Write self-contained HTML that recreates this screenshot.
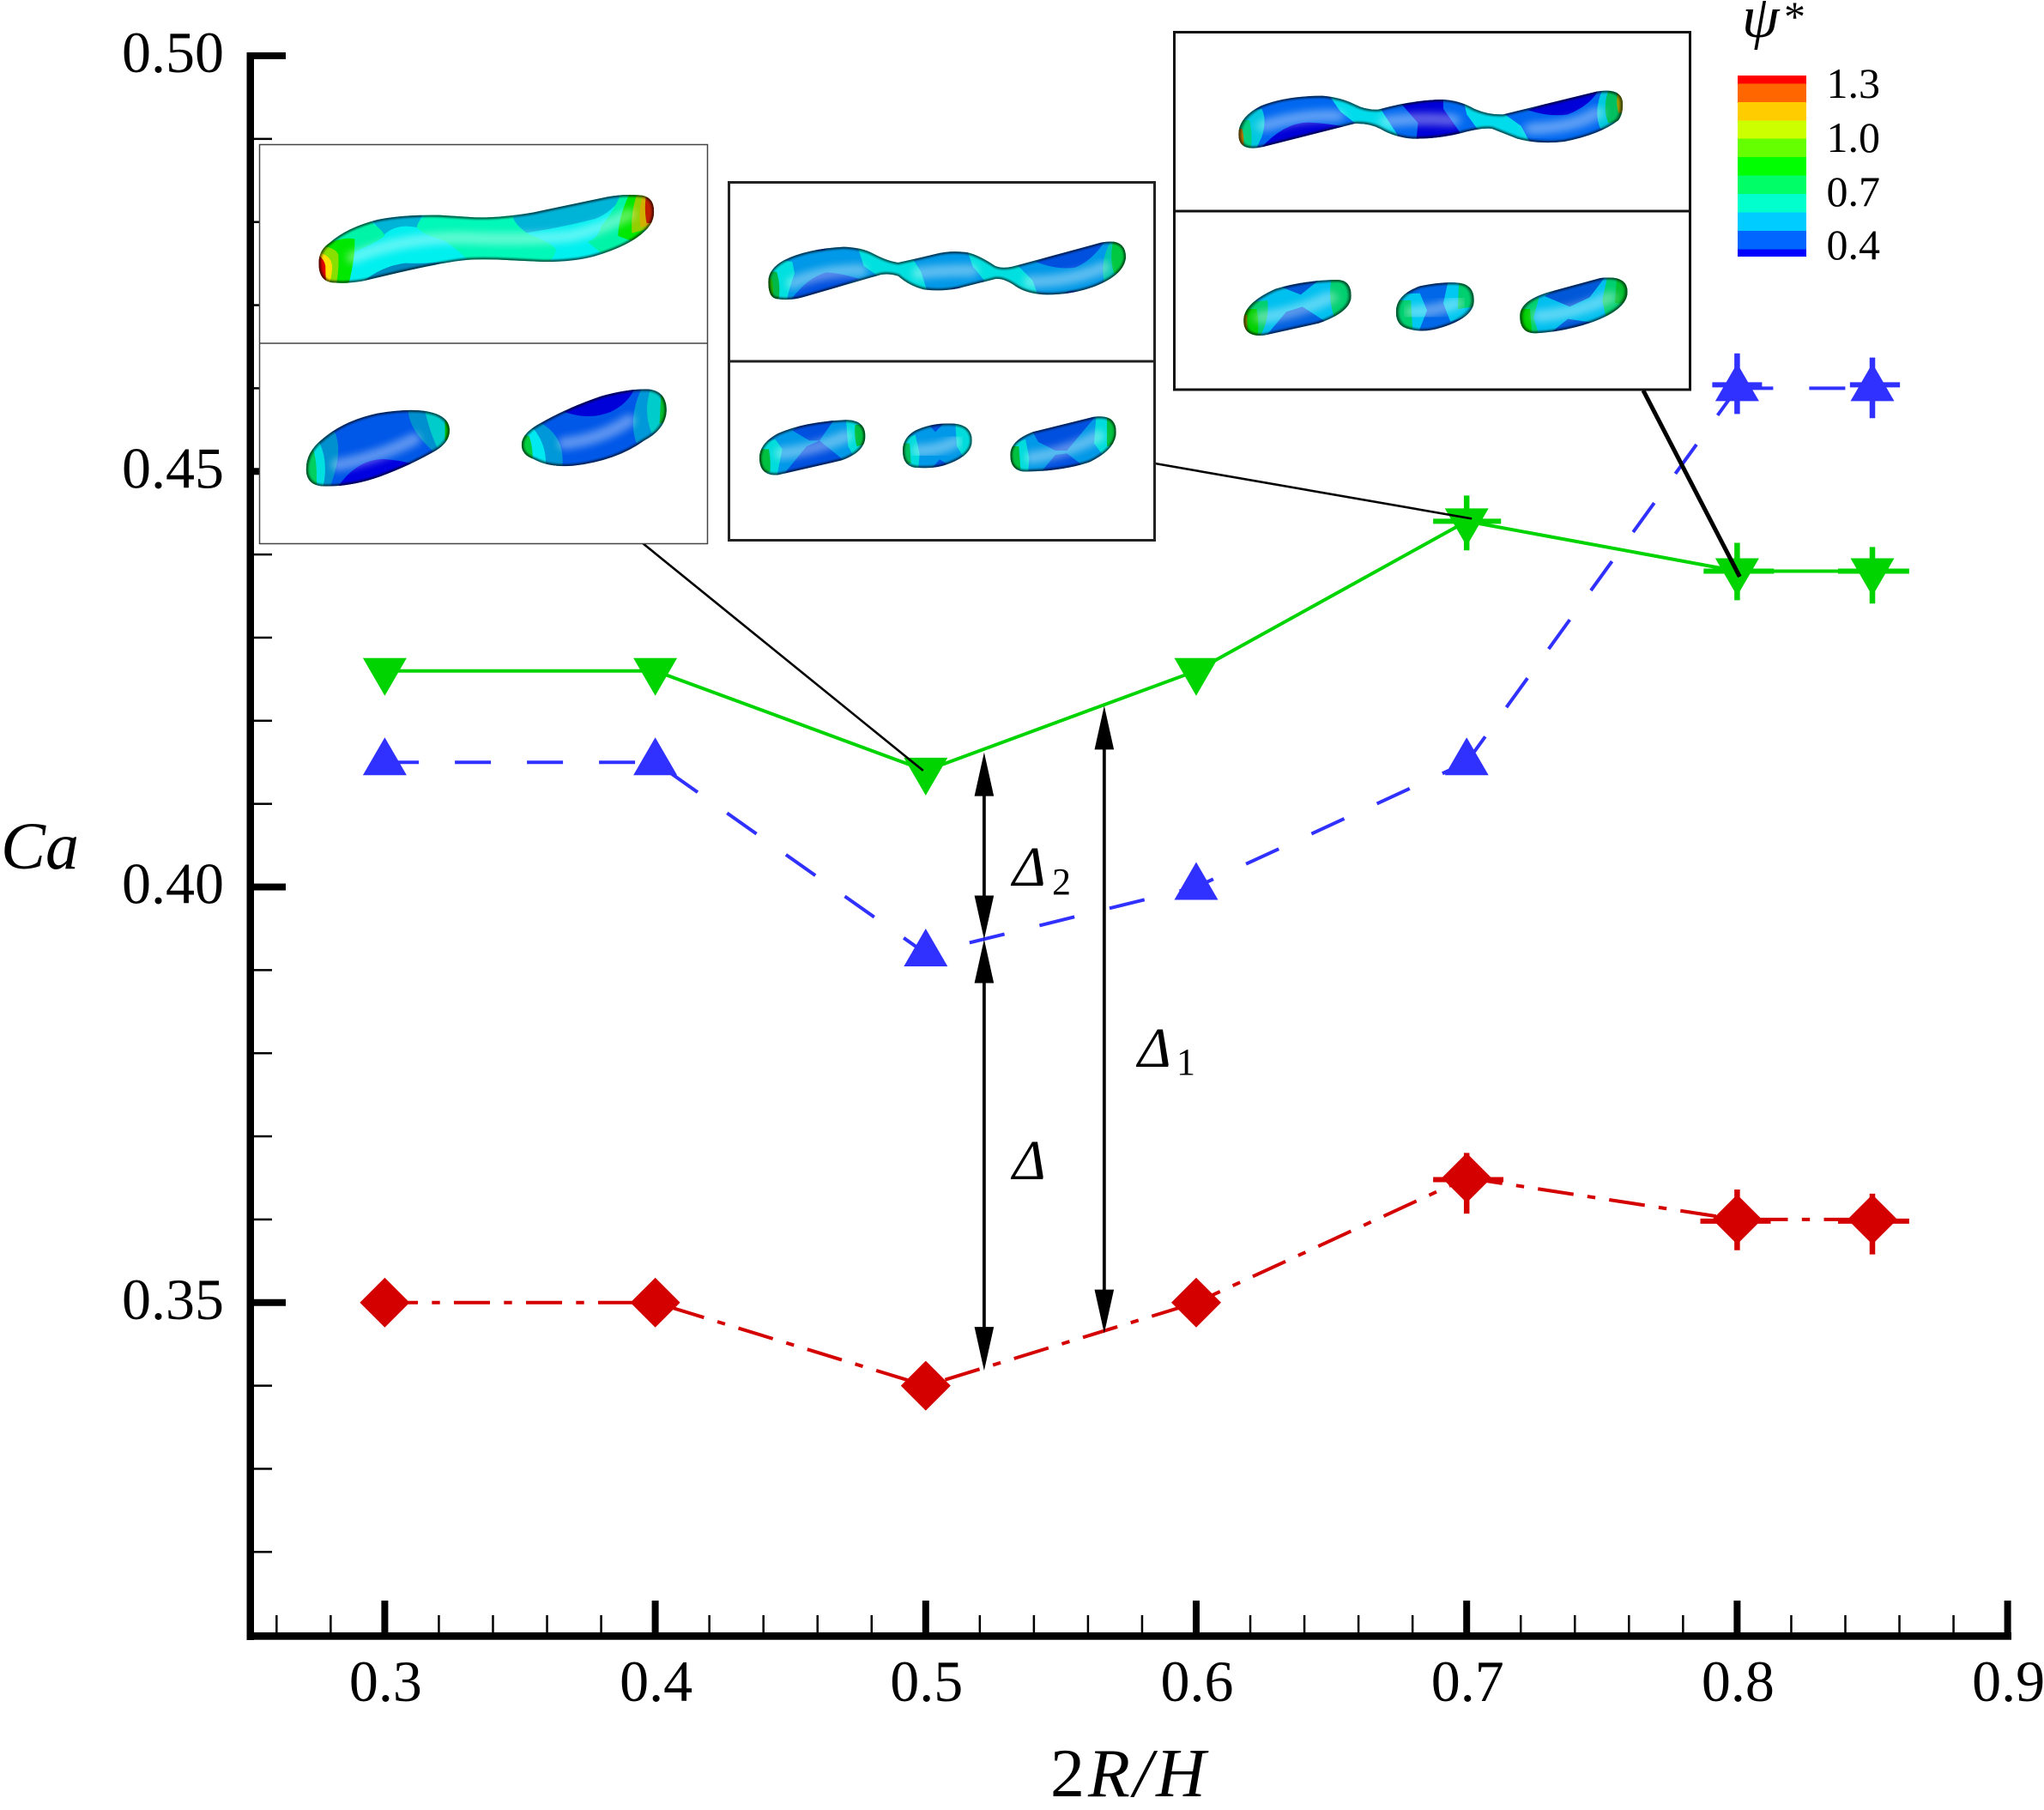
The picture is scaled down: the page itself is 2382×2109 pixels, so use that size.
<!DOCTYPE html>
<html lang="en">
<head>
<meta charset="utf-8">
<title>Ca versus 2R/H</title>
<style>
html,body{margin:0;padding:0;background:#fff;}
body{width:2382px;height:2109px;overflow:hidden;}
svg{display:block;}
text{font-family:"Liberation Serif",serif;fill:#000;}
.shade{fill:none;stroke:#000;stroke-width:13;opacity:.65;filter:url(#edgeBlur);}
.hl{fill:none;stroke:#fff;stroke-width:44;opacity:.36;stroke-linecap:round;filter:url(#hlBlur);}
</style>
</head>
<body>
<svg id="chart" xmlns="http://www.w3.org/2000/svg" width="2382" height="2109" viewBox="0 0 2382 2109">
<defs>
<filter id="edgeBlur" x="-20%" y="-40%" width="140%" height="180%"><feGaussianBlur stdDeviation="3.5"/></filter>
<filter id="hlBlur" x="-20%" y="-60%" width="140%" height="220%"><feGaussianBlur stdDeviation="13"/></filter>
<path id="oA" d="M228 470Q228 425 262 400Q320 345 420 318Q500 300 620 302Q680 306 740 310Q820 312 930 292L1170 238Q1220 228 1270 232Q1322 232 1322 290Q1322 330 1290 360Q1240 410 1130 445Q1060 466 960 465L860 460Q780 455 720 458Q640 465 480 505L370 533Q320 542 280 538Q228 538 228 470Z"/>
<path id="oB" d="M187 1190Q187 1130 240 1085Q310 1020 420 995Q500 980 560 985Q655 995 655 1055Q655 1095 610 1125Q530 1175 430 1215Q340 1250 250 1250Q187 1250 187 1190Z"/>
<path id="oC" d="M890 1105Q890 1065 950 1030Q1040 975 1150 935Q1230 910 1300 910Q1363 915 1363 985Q1360 1050 1290 1090Q1200 1160 1060 1178Q980 1185 930 1155Q890 1140 890 1105Z"/>
<path id="oD" d="M166 385Q166 340 220 310Q300 270 430 263Q490 265 530 285Q580 312 620 318Q680 305 750 288Q800 275 860 282Q900 290 960 330Q985 340 1020 332L1330 248Q1416 230 1416 300Q1410 360 1310 400Q1230 430 1140 430Q1070 428 1030 400Q990 372 960 375L830 408Q770 420 710 412Q660 400 620 365Q590 355 560 360L290 438Q240 452 200 445Q166 445 166 385Z"/>
<path id="oE" d="M135 1000Q135 950 200 915Q290 875 430 868Q505 865 505 925Q505 980 420 1010L200 1060Q135 1065 135 1000Z"/>
<path id="oF" d="M636 975Q636 930 680 905Q730 880 800 880Q878 880 878 940Q878 990 800 1020Q750 1040 690 1035Q636 1035 636 975Z"/>
<path id="oG" d="M1012 990Q1012 940 1090 910L1300 858Q1382 845 1382 910Q1382 970 1290 1015Q1200 1045 1080 1048Q1012 1055 1012 990Z"/>
<path id="oH" d="M198 470Q198 410 260 370Q330 335 430 335Q480 340 520 365Q550 385 585 383Q680 350 760 348Q810 350 850 380Q890 402 930 400L1190 320Q1262 305 1262 365Q1262 400 1250 420Q1200 470 1100 495Q1030 505 970 485Q930 465 900 450Q880 445 830 460Q760 485 680 485Q630 480 590 450Q560 430 520 432L270 512Q198 535 198 470Z"/>
<path id="oI" d="M212 1120Q212 1060 300 1010Q380 980 470 978Q510 978 510 1035Q510 1090 420 1130L270 1172Q212 1180 212 1120Z"/>
<path id="oJ" d="M634 1090Q634 1030 700 1000Q760 985 800 988Q850 990 850 1050Q850 1110 760 1145Q710 1165 670 1150Q634 1140 634 1090Z"/>
<path id="oK" d="M977 1105Q977 1050 1060 1020L1200 972Q1275 960 1275 1020Q1275 1080 1180 1125Q1100 1160 1020 1165Q977 1165 977 1105Z"/>
<clipPath id="cA"><use href="#oA"/></clipPath><clipPath id="cB"><use href="#oB"/></clipPath><clipPath id="cC"><use href="#oC"/></clipPath>
<clipPath id="cD"><use href="#oD"/></clipPath><clipPath id="cE"><use href="#oE"/></clipPath><clipPath id="cF"><use href="#oF"/></clipPath><clipPath id="cG"><use href="#oG"/></clipPath>
<clipPath id="cH"><use href="#oH"/></clipPath><clipPath id="cI"><use href="#oI"/></clipPath><clipPath id="cJ"><use href="#oJ"/></clipPath><clipPath id="cK"><use href="#oK"/></clipPath>
</defs>

<rect x="0" y="0" width="2382" height="2109" fill="#fff"/>

<g id="axes"></g>
<g id="series"></g>
<g id="leaders"></g>

<!-- inset 1 -->
<g>
<rect x="302.5" y="168.5" width="522" height="465" fill="#fff" stroke="#444" stroke-width="1.5"/>
<line x1="302" y1="400" x2="825" y2="400" stroke="#444" stroke-width="1.5"/>
<g transform="translate(290,150) scale(.35714,.33333)">
<g clip-path="url(#cA)">
<rect x="200" y="200" width="1150" height="360" fill="#00f0f0"/>
<path fill="#00b4d8" d="M395 310L570 290L548 345Q480 330 440 372Z"/>
<path fill="#00b4d8" d="M850 312L1230 220Q1190 290 1130 315Q1020 345 905 364Z"/>
<path fill="#0088c0" d="M360 545Q430 480 510 470Q580 472 640 465L480 520Z"/>
<path fill="#00f8b8" d="M548 345Q555 300 620 295L860 305Q870 340 915 370Q980 395 1002 420Q1000 450 970 475L720 465Q690 430 640 392Q590 375 570 365Z"/>
<path fill="#00f4a8" d="M1105 395Q1140 385 1150 340Q1190 290 1215 225L1340 220L1340 420L1150 435Z"/>
<path fill="#00f4a8" d="M230 400Q300 350 395 325Q440 355 443 375Q420 395 345 430L325 545L220 545Z"/>
<path fill="#00e800" d="M220 420Q300 375 345 385Q348 450 325 545L220 545Z"/>
<path fill="#00e800" d="M1245 220Q1205 310 1205 375L1270 400L1340 220Z"/>
<path fill="#88e000" d="M220 410Q280 410 292 440Q295 490 285 545L220 545Z"/>
<path fill="#90d000" d="M1268 225Q1245 290 1250 365L1340 340L1340 225Z"/>
<path fill="#ffe000" d="M220 430Q268 440 272 480Q272 510 262 545L220 545Z"/>
<path fill="#d0b000" d="M1285 235Q1270 290 1278 345L1340 330L1340 235Z"/>
<path fill="#e00000" d="M220 440Q245 450 250 480Q250 510 252 535L220 535Z"/>
<path fill="#c02000" d="M1295 240Q1290 290 1298 330L1340 330L1340 240Z"/>
<path class="hl" d="M340 450Q520 375 720 382Q900 390 1050 375Q1150 350 1240 300"/>
<use class="shade" href="#oA"/>
</g>
<g clip-path="url(#cB)">
<rect x="170" y="970" width="500" height="300" fill="#0058e8"/>
<path fill="#0000e0" d="M285 1260Q350 1155 440 1155Q490 1158 535 1172L420 1240Z"/>
<path fill="#0090d0" d="M520 970Q515 1050 610 1135L680 1100L680 970Z"/>
<path fill="#00cccc" d="M572 975Q590 1060 615 1115L680 1080L680 975Z"/>
<path fill="#00c000" d="M640 1010L680 1010L680 1090L640 1090Z"/>
<path fill="#0090d0" d="M170 1260L262 1260Q310 1130 280 1060L170 1060Z"/>
<path fill="#00e0e0" d="M170 1260L240 1260Q262 1170 230 1095L170 1095Z"/>
<path fill="#00d060" d="M170 1260L220 1260Q225 1170 210 1120L170 1120Z"/>
<path class="hl" d="M290 1175Q420 1150 540 1085"/>
<use class="shade" href="#oB"/>
</g>
<g clip-path="url(#cC)">
<rect x="870" y="890" width="510" height="310" fill="#0058e8"/>
<path fill="#0000d8" d="M1030 990Q1110 1020 1180 990Q1240 960 1262 900L1130 925Z"/>
<path fill="#0098d8" d="M870 1030L955 1030Q1035 1080 1022 1190L870 1190Z"/>
<path fill="#00e8f0" d="M870 1050L930 1050Q975 1110 968 1190L870 1190Z"/>
<path fill="#00d040" d="M870 1060L915 1075Q930 1120 925 1190L870 1190Z"/>
<path fill="#0098d8" d="M1285 900L1380 900L1380 1050L1265 1100Q1235 1010 1285 900Z"/>
<path fill="#00cccc" d="M1312 905L1380 905L1380 1030L1315 1065Q1285 990 1312 905Z"/>
<path fill="#00c030" d="M1345 930L1380 930L1380 1020L1340 1030Z"/>
<path class="hl" d="M1030 1100Q1150 1085 1240 1020"/>
<use class="shade" href="#oC"/>
</g>
</g>
</g>

<!-- inset 2 -->
<g>
<rect x="849.5" y="212.5" width="496" height="417" fill="#fff" stroke="#222" stroke-width="3"/>
<line x1="849" y1="421" x2="1346" y2="421" stroke="#222" stroke-width="3"/>
<g transform="translate(840,200) scale(.33333)">
<g clip-path="url(#cD)">
<rect x="150" y="230" width="1290" height="230" fill="#0098e8"/>
<path fill="#0050e0" d="M240 455Q300 370 370 352Q420 355 485 375L300 445Z"/>
<path fill="#0050e0" d="M1100 315Q1180 345 1240 335Q1300 310 1345 240L1200 275Z"/>
<path fill="#0050e0" d="M310 262Q350 295 385 258Z"/>
<path fill="#0050e0" d="M795 415Q825 395 860 412Z"/>
<path fill="#0050e0" d="M1185 440Q1220 400 1265 425Z"/>
<path fill="#00e0e0" d="M478 262L530 275L620 310L665 295L700 350L722 420L660 410L610 360L550 365L500 330Z"/>
<path fill="#00e0e0" d="M862 275L900 285L985 332L1035 325L1090 380L1110 435L1040 420L985 380L925 385L880 330Z"/>
<path fill="#00e0e0" d="M150 370L220 310L250 315L258 355L240 410L228 460L150 460Z"/>
<path fill="#00c8b0" d="M1365 240Q1325 310 1340 385L1430 350L1430 240Z"/>
<path fill="#00b848" d="M150 350L195 350Q212 400 200 460L150 460Z"/>
<path fill="#20b000" d="M150 370L178 375Q186 410 182 440L150 440Z"/>
<path fill="#00c840" d="M1372 240L1430 240L1430 350L1375 355Q1358 310 1372 240Z"/>
<path class="hl" d="M250 390Q360 345 490 345M690 355Q770 345 880 345M1080 385Q1220 385 1340 335"/>
<use class="shade" href="#oD"/>
</g>
<g clip-path="url(#cE)">
<rect x="120" y="860" width="400" height="210" fill="#0098e8"/>
<path fill="#0050e0" d="M250 905L310 940L345 940L398 865L290 875Z"/>
<path fill="#0050e0" d="M210 1070L300 960L345 940L425 1005L300 1050Z"/>
<path fill="#00dcdc" d="M120 960L190 935L215 970L195 1070L120 1070Z"/>
<path fill="#00dcdc" d="M438 870L445 960L462 990L520 960L520 860Z"/>
<path fill="#00c040" d="M120 970L168 970Q176 1010 172 1050L120 1050Z"/>
<path fill="#00c040" d="M470 885L520 885L520 950L475 960Q465 920 470 885Z"/>
<path class="hl" d="M210 985Q320 975 440 925"/>
<use class="shade" href="#oE"/>
</g>
<g clip-path="url(#cF)">
<rect x="620" y="870" width="270" height="180" fill="#0098e8"/>
<path fill="#0050e0" d="M718 875L750 910L785 875Z"/>
<path fill="#0050e0" d="M730 1045L765 1006L805 1030Z"/>
<path fill="#00dcdc" d="M620 940L680 920L695 985L690 1045L620 1045Z"/>
<path fill="#00dcdc" d="M820 880L825 960L850 1000L890 980L890 880Z"/>
<path fill="#00c060" d="M620 950L660 950L665 1020L620 1020Z"/>
<path class="hl" d="M690 975Q760 975 820 945"/>
<use class="shade" href="#oF"/>
</g>
<g clip-path="url(#cG)">
<rect x="1000" y="850" width="390" height="210" fill="#0098e8"/>
<path fill="#0050e0" d="M1088 905L1110 945L1170 975L1210 975L1315 850L1200 875Z"/>
<path fill="#0050e0" d="M1115 1055L1170 990L1210 985L1270 1030Z"/>
<path fill="#00dcdc" d="M1000 960L1065 935L1078 1000L1075 1055L1000 1055Z"/>
<path fill="#00dcdc" d="M1312 860L1305 950L1335 990L1390 950L1390 850Z"/>
<path fill="#00c040" d="M1000 960L1042 960L1048 1040L1000 1040Z"/>
<path fill="#00c040" d="M1350 860L1390 860L1390 950L1350 960Z"/>
<path class="hl" d="M1085 1000Q1200 985 1320 925"/>
<use class="shade" href="#oG"/>
</g>
</g>
</g>

<!-- inset 3 -->
<g>
<rect x="1368.5" y="37.5" width="601" height="416.5" fill="#fff" stroke="#111" stroke-width="3"/>
<line x1="1368" y1="246" x2="1970" y2="246" stroke="#111" stroke-width="3"/>
<g transform="translate(1360,0) scale(.42088,.33333)">
<g clip-path="url(#cH)">
<rect x="180" y="310" width="1100" height="220" fill="#0068f0"/>
<path fill="#0000d8" d="M255 525Q320 430 390 428Q440 430 500 445L300 510Z"/>
<path fill="#0000d8" d="M1000 385Q1060 410 1110 400Q1170 370 1195 315L1080 345Z"/>
<path fill="#0000d8" d="M650 365L765 340L765 380L815 470L690 495L695 430Z"/>
<path fill="#00dcec" d="M450 335L520 360L590 378L640 475L610 475L560 440L525 435L480 390Z"/>
<path fill="#00dcec" d="M820 345L850 370L930 395L980 440L1008 505L960 490L900 455L860 452L830 400Z"/>
<path fill="#00c8e0" d="M180 400L262 380Q278 420 262 480L245 525L180 525Z"/>
<path fill="#00d080" d="M180 420L228 420Q238 470 232 520L180 520Z"/>
<path fill="#c08000" d="M180 450L208 450Q214 480 212 510L180 510Z"/>
<path fill="#00c8e0" d="M1205 315Q1180 390 1200 450L1280 440L1280 315Z"/>
<path fill="#00c060" d="M1222 315Q1205 380 1222 430L1280 420L1280 315Z"/>
<path fill="#a0a000" d="M1248 325Q1242 360 1250 395L1280 395L1280 325Z"/>
<path class="hl" d="M270 440Q370 400 470 405M610 425Q700 410 790 420M1010 450Q1130 445 1190 395"/>
<use class="shade" href="#oH"/>
</g>
<g clip-path="url(#cI)">
<rect x="200" y="970" width="320" height="210" fill="#00c0f0"/>
<path fill="#0058d8" d="M320 1005L370 1030L425 975L340 985Z"/>
<path fill="#0060e0" d="M270 1180L330 1090L375 1072L440 1125L350 1165Z"/>
<path fill="#00d070" d="M200 1060L278 1050Q285 1120 255 1180L200 1180Z"/>
<path fill="#00d000" d="M200 1080L248 1080Q256 1130 250 1180L200 1180Z"/>
<path fill="#a09000" d="M200 1100L222 1100L222 1160L200 1160Z"/>
<path fill="#00d070" d="M455 975L520 975L520 1080L465 1115Q445 1050 455 975Z"/>
<path class="hl" d="M260 1110Q360 1095 450 1040"/>
<use class="shade" href="#oI"/>
</g>
<g clip-path="url(#cJ)">
<rect x="620" y="975" width="240" height="190" fill="#0068e8"/>
<path fill="#00c8f0" d="M620 1030L700 1025L720 1085L695 1165L620 1165Z"/>
<path fill="#00d070" d="M620 1050L675 1050L680 1150L620 1150Z"/>
<path fill="#00c8f0" d="M778 985L765 1060L785 1125L860 1090L860 985Z"/>
<path fill="#00d070" d="M808 990L805 1080L860 1070L860 990Z"/>
<path class="hl" d="M680 1090Q740 1090 800 1060"/>
<use class="shade" href="#oJ"/>
</g>
<g clip-path="url(#cK)">
<rect x="965" y="960" width="320" height="215" fill="#00c0f0"/>
<path fill="#0058d8" d="M1045 1035L1115 1072L1170 1040L1215 965L1095 1000Z"/>
<path fill="#0058d8" d="M1055 1170L1110 1115L1180 1128L1130 1155Z"/>
<path fill="#00d070" d="M965 1065L1030 1040L1015 1110L1030 1170L965 1170Z"/>
<path fill="#00d000" d="M965 1080L1005 1080L1010 1160L965 1160Z"/>
<path fill="#00d070" d="M1220 965L1205 1050L1215 1105L1285 1080L1285 965Z"/>
<path fill="#00c030" d="M1245 975L1240 1060L1285 1060L1285 975Z"/>
<path class="hl" d="M1030 1105Q1130 1095 1225 1040"/>
<use class="shade" href="#oK"/>
</g>
</g>
</g>

<g id="annotations"></g>

<text x="1180" y="1032" font-size="66" font-style="italic">Δ</text>
<text x="1226" y="1042" font-size="44">2</text>
<text x="1326" y="1243" font-size="66" font-style="italic">Δ</text>
<text x="1371" y="1252" font-size="44">1</text>
<text x="1180" y="1374" font-size="66" font-style="italic">Δ</text>

<text x="1" y="1012" font-size="78" font-style="italic">Ca</text>
<text x="1224" y="2093" font-size="80" letter-spacing="4"><tspan>2</tspan><tspan font-style="italic">R/H</tspan></text>

<g>
<text x="2030" y="43" font-size="70" font-style="italic">ψ</text>
<text x="2079" y="36" font-size="50">*</text>
<g id="colorbar-bands">
<rect x="2025" y="88" width="80" height="10" fill="#ff0000"/>
<rect x="2025" y="97.5" width="80" height="22" fill="#ff6600"/>
<rect x="2025" y="119" width="80" height="22" fill="#ffcc00"/>
<rect x="2025" y="140.5" width="80" height="21.5" fill="#ccff00"/>
<rect x="2025" y="161.5" width="80" height="22" fill="#66ff00"/>
<rect x="2025" y="183" width="80" height="22" fill="#00ff00"/>
<rect x="2025" y="204.5" width="80" height="22" fill="#00ff66"/>
<rect x="2025" y="226" width="80" height="22" fill="#00ffcc"/>
<rect x="2025" y="247.5" width="80" height="22" fill="#00ccff"/>
<rect x="2025" y="269" width="80" height="22" fill="#0066ff"/>
<rect x="2025" y="290.5" width="80" height="8.5" fill="#0000ff"/>
</g>
<text x="2191" y="114" font-size="50" text-anchor="end">1.3</text>
<text x="2191" y="177" font-size="50" text-anchor="end">1.0</text>
<text x="2191" y="240" font-size="50" text-anchor="end">0.7</text>
<text x="2191" y="302" font-size="50" text-anchor="end">0.4</text>
</g>

<script>
// ---- chart data ----
const ratios = [0.3, 0.4, 0.5, 0.6, 0.7, 0.8, 0.85];
const greenValues = [0.426, 0.426, 0.414, 0.426, 0.444, 0.438, 0.438];
const blueValues = [0.415, 0.415, 0.392, 0.400, 0.415, 0.460, 0.460];
const redValues = [0.350, 0.350, 0.340, 0.350, 0.365, 0.360, 0.360];

const greenErrUp = [0, 0, 0, 0, 0.0031, 0.0034, 0.0029];
const greenErrDown = [0, 0, 0, 0, 0.0035, 0.0035, 0.0039];
const greenErrLeft = [0, 0, 0, 0, 0.0124, 0.0124, 0.0127];
const greenErrRight = [0, 0, 0, 0, 0.0127, 0.0136, 0.0136];

const blueErrUp = [0, 0, 0, 0, 0, 0.0042, 0.0037];
const blueErrDown = [0, 0, 0, 0, 0, 0.0031, 0.0036];
const blueErrLeft = [0, 0, 0, 0, 0, 0.0092, 0.0083];
const blueErrRight = [0, 0, 0, 0, 0, 0.0092, 0.0102];

const redErrUp = [0, 0, 0, 0, 0.0030, 0.0036, 0.0031];
const redErrDown = [0, 0, 0, 0, 0.0043, 0.0037, 0.0042];
const redErrLeft = [0, 0, 0, 0, 0.0124, 0.0136, 0.0127];
const redErrRight = [0, 0, 0, 0, 0.0136, 0.0124, 0.0136];

const xMajorTicks = [0.3, 0.4, 0.5, 0.6, 0.7, 0.8, 0.9];
const xTickLabels = ['0.3', '0.4', '0.5', '0.6', '0.7', '0.8', '0.9'];
const xMinorTicks = [0.26, 0.28, 0.32, 0.34, 0.36, 0.38, 0.42, 0.44, 0.46, 0.48, 0.52, 0.54, 0.56, 0.58, 0.62, 0.64, 0.66, 0.68, 0.72, 0.74, 0.76, 0.78, 0.82, 0.84, 0.86, 0.88];
const yMajorTicks = [0.35, 0.40, 0.45, 0.50];
const yTickLabels = ['0.35', '0.40', '0.45', '0.50'];
const yMinorTicks = [0.32, 0.33, 0.34, 0.36, 0.37, 0.38, 0.39, 0.41, 0.42, 0.43, 0.44, 0.46, 0.47, 0.48, 0.49];

// ---- axis functions ----
function xScale(v) { return 448.4 + (v - 0.3) * 3152; }
function yScale(v) { return 65 + (0.5 - v) * 9685; }

const SVGNS = 'http://www.w3.org/2000/svg';
function mk(parent, tag, attrs) {
  const el = document.createElementNS(SVGNS, tag);
  for (const k in attrs) el.setAttribute(k, attrs[k]);
  parent.appendChild(el);
  return el;
}

// ---- axes ----
const axes = document.getElementById('axes');
const yAxisLine = mk(axes, 'rect', { x: 287.5, y: 61, width: 8.5, height: 1850, fill: '#000' });


const xAxisLine = mk(axes, 'rect', { x: 287.5, y: 1902, width: 2056.5, height: 8.7, fill: '#000' });



xMajorTicks.forEach(function (v, i) {
  const t = mk(axes, 'rect', { x: xScale(v) - 4, y: 1865, width: 8, height: 38, fill: '#000' });
  
  
  const l = mk(axes, 'text', { x: xScale(v) + 1, y: 1982, 'font-size': 68, 'text-anchor': 'middle' });
  l.textContent = xTickLabels[i];
  
  
});
xMinorTicks.forEach(function (v) {
  const t = mk(axes, 'rect', { x: xScale(v) - 1.25, y: 1882, width: 2.5, height: 21, fill: '#000' });
  
  
});
yMajorTicks.forEach(function (v, i) {
  const t = mk(axes, 'rect', { x: 295, y: yScale(v) - 4, width: 38, height: 8, fill: '#000' });
  
  
  const l = mk(axes, 'text', { x: 261, y: yScale(v) + 19, 'font-size': 68, 'text-anchor': 'end' });
  l.textContent = yTickLabels[i];
  
  
});
yMinorTicks.forEach(function (v) {
  const t = mk(axes, 'rect', { x: 295, y: yScale(v) - 1.25, width: 22, height: 2.5, fill: '#000' });
  
  
});

// ---- series ----
const seriesLayer = document.getElementById('series');
function drawSeries(name, values, errUp, errDown, errLeft, errRight, color, dash, pieces, shape, barShift) {
  // pieces: first point index, last point index and dash phase of each stroked run
  pieces.forEach(function (piece) {
    const pts = [];
    for (let i = piece[0]; i <= piece[1]; i++) {
      pts.push(xScale(ratios[i]) + ',' + yScale(values[i]));
    }
    const line = mk(seriesLayer, 'polyline', { points: pts.join(' '), fill: 'none', stroke: color, 'stroke-width': 4, 'stroke-dasharray': dash, 'stroke-dashoffset': piece[2] });
    
    
  });
  ratios.forEach(function (r, i) {
    const cx = xScale(r), cy = yScale(values[i]);
    if (errUp[i] > 0) {
      const v = mk(seriesLayer, 'line', { x1: cx, x2: cx, y1: yScale(values[i] + errUp[i]), y2: yScale(values[i] - errDown[i]), stroke: color, 'stroke-width': 6.5 });
      
      
    }
    if (errLeft[i] > 0) {
      const h = mk(seriesLayer, 'line', { x1: xScale(r - errLeft[i]), x2: xScale(r + errRight[i]), y1: cy + barShift, y2: cy + barShift, stroke: color, 'stroke-width': 6 });
      
      
    }
    let p;
    if (shape === 'down') {
      p = [[cx - 25.5, cy - 15], [cx + 25.5, cy - 15], [cx, cy + 29]];
    } else if (shape === 'up') {
      p = [[cx - 25.5, cy + 15], [cx + 25.5, cy + 15], [cx, cy - 29]];
    } else {
      p = [[cx - 29, cy], [cx, cy - 29], [cx + 29, cy], [cx, cy + 29]];
    }
    const m = mk(seriesLayer, 'polygon', { points: p.map(function (q) { return q.join(','); }).join(' '), fill: color });
    
    
  });
}
drawSeries('green', greenValues, greenErrUp, greenErrDown, greenErrLeft, greenErrRight, '#00d400', 'none', [[0, 6, 0]], 'down', 0);
drawSeries('blue', blueValues, blueErrUp, blueErrDown, blueErrLeft, blueErrRight, '#3030ff', '42 42', [[0, 4, 2.3], [4, 5, 5], [5, 6, 0]], 'up', -4);
drawSeries('red', redValues, redErrUp, redErrDown, redErrLeft, redErrRight, '#d40000', '42 16.3 9.4 16.3', [[0, 3, 3.4], [3, 4, 11.4], [4, 6, 0]], 'diamond', 2);

// ---- leader lines from insets to their data points ----
const leaders = document.getElementById('leaders');
const leader1 = mk(leaders, 'line', { x1: 749, y1: 633, x2: xScale(ratios[2]) - 3, y2: yScale(greenValues[2]), stroke: '#000', 'stroke-width': 2.6 });


const leader2 = mk(leaders, 'line', { x1: 1346, y1: 540, x2: xScale(ratios[4]) + 6, y2: yScale(greenValues[4]) - 3, stroke: '#000', 'stroke-width': 2.6 });


const leader3 = mk(leaders, 'line', { x1: 1915, y1: 455, x2: xScale(ratios[5]) + 3, y2: yScale(greenValues[5]) + 6.5, stroke: '#000', 'stroke-width': 5 });



// ---- gap arrows (in data units) ----
const annotations = document.getElementById('annotations');
function arrowHead(xv, tipCa, dir) {
  const tx = xScale(xv), ty = yScale(tipCa);
  return [tx + ',' + ty, (tx - 11.3) + ',' + (ty + dir * 51), (tx + 11.3) + ',' + (ty + dir * 51)].join(' ');
}
const gapArrowX = [0.5216, 0.5216, 0.566];
const gapArrowTop = [0.4162, 0.3937, 0.4218];
const gapArrowBottom = [0.3937, 0.3418, 0.3463];
gapArrowX.forEach(function (xv, i) {
  const shaft = mk(annotations, 'line', { x1: xScale(xv), x2: xScale(xv), y1: yScale(gapArrowTop[i]) + 10, y2: yScale(gapArrowBottom[i]) - 10, stroke: '#000', 'stroke-width': 3.8 });
  
  
  const top = mk(annotations, 'polygon', { points: arrowHead(xv, gapArrowTop[i], 1), fill: '#000' });
  
  
  const bottom = mk(annotations, 'polygon', { points: arrowHead(xv, gapArrowBottom[i], -1), fill: '#000' });
  
  
});
</script>
</svg>
</body>
</html>
